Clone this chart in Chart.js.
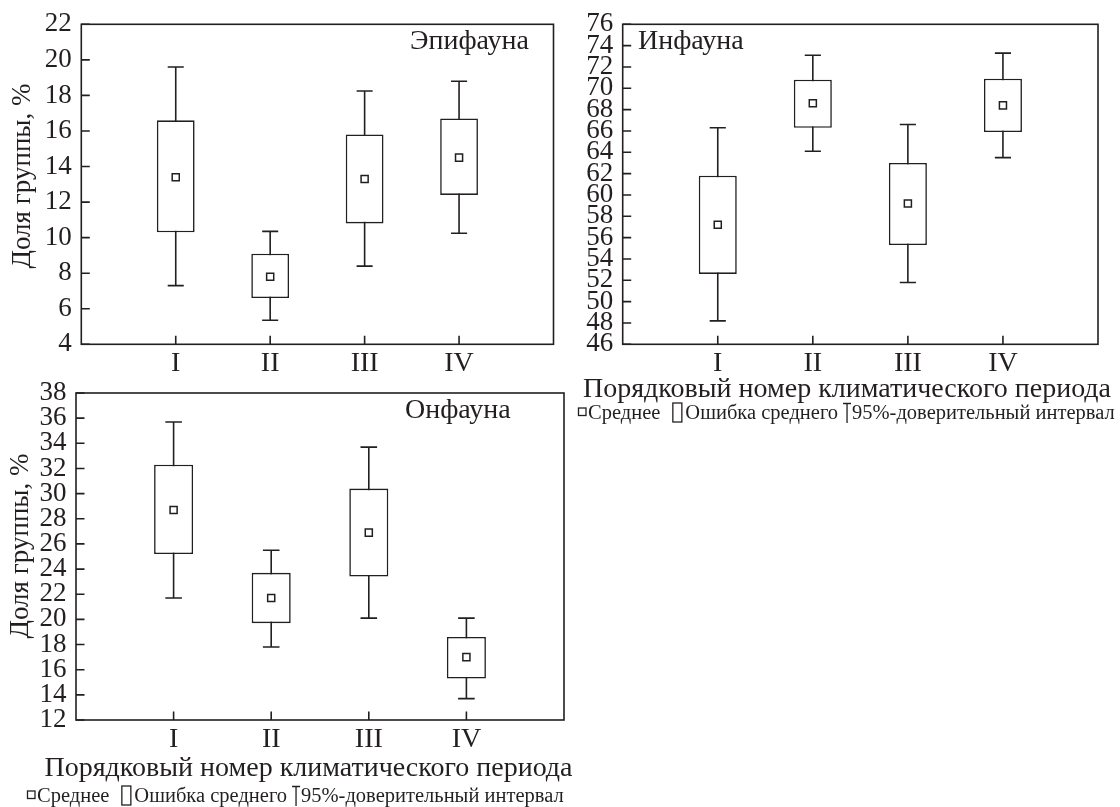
<!DOCTYPE html>
<html>
<head>
<meta charset="utf-8">
<script src="https://cdn.jsdelivr.net/npm/chart.js@4.4.1/dist/chart.umd.min.js"></script>
<style>
  html, body { margin: 0; padding: 0; background: #fff; }
  body { width: 1120px; height: 807px; position: relative; overflow: hidden; }
  canvas { position: absolute; }
</style>
</head>
<body>
<canvas id="epi" width="560" height="385" style="left:0;top:0"></canvas>
<canvas id="inf" width="560" height="440" style="left:560px;top:0"></canvas>
<canvas id="onf" width="600" height="437" style="left:0;top:370px"></canvas>
<script>
// Climatic periods (x axis)
const periods = ['I', 'II', 'III', 'IV'];

// Эпифауна: mean, standard error bounds, 95% CI bounds (%)
const epiMean   = [13.4, 7.8, 13.3, 14.5];
const epiSeLow  = [10.3, 6.6, 10.8, 12.4];
const epiSeHigh = [16.6, 9.1, 15.8, 16.7];
const epiCiLow  = [7.3, 5.35, 8.4, 10.25];
const epiCiHigh = [19.6, 10.35, 18.25, 18.8];
const epiTicks  = [4, 6, 8, 10, 12, 14, 16, 18, 20, 22];

// Инфауна
const infMean   = [57.2, 68.6, 59.2, 68.4];
const infSeLow  = [52.6, 66.3, 55.3, 65.9];
const infSeHigh = [61.8, 70.8, 63.0, 70.9];
const infCiLow  = [48.2, 64.1, 51.8, 63.5];
const infCiHigh = [66.3, 73.1, 66.6, 73.3];
const infTicks  = [46, 48, 50, 52, 54, 56, 58, 60, 62, 64, 66, 68, 70, 72, 74, 76];

// Онфауна
const onfMean   = [28.7, 21.7, 26.9, 17.0];
const onfSeLow  = [25.2, 19.7, 23.4, 15.3];
const onfSeHigh = [32.3, 23.7, 30.4, 18.6];
const onfCiLow  = [21.7, 17.8, 20.1, 13.7];
const onfCiHigh = [35.7, 25.5, 33.7, 20.1];
const onfTicks  = [12, 14, 16, 18, 20, 22, 24, 26, 28, 30, 32, 34, 36, 38];

const INK = '#231f20';
const SERIF = "'Liberation Serif', 'Times New Roman', serif";
Chart.defaults.font.family = SERIF;
Chart.defaults.color = INK;

const LINE = 1.6;

// Frame, inward tick marks, confidence-interval whiskers and panel texts
const panelDecor = {
  id: 'panelDecor',
  beforeDatasetsDraw(chart, args, o) {
    const { ctx, scales: { x, y } } = chart;
    const unit = x.getPixelForValue(1) - x.getPixelForValue(0);
    const cap = unit * 0.085;
    ctx.save();
    ctx.strokeStyle = INK;
    ctx.lineWidth = LINE;
    o.ciLow.forEach((lo, i) => {
      const px = x.getPixelForValue(i + 1);
      const yLo = y.getPixelForValue(lo);
      const yHi = y.getPixelForValue(o.ciHigh[i]);
      ctx.beginPath();
      ctx.moveTo(px, yLo); ctx.lineTo(px, yHi);
      ctx.moveTo(px - cap, yLo); ctx.lineTo(px + cap, yLo);
      ctx.moveTo(px - cap, yHi); ctx.lineTo(px + cap, yHi);
      ctx.stroke();
    });
    ctx.restore();
  },
  afterDraw(chart, args, o) {
    const { ctx, chartArea: a, scales: { x, y } } = chart;
    ctx.save();
    ctx.strokeStyle = INK;
    ctx.fillStyle = INK;
    ctx.lineWidth = LINE;
    ctx.strokeRect(a.left, a.top, a.right - a.left, a.bottom - a.top);
    const tl = 8.5;
    ctx.beginPath();
    y.ticks.forEach(t => {
      const py = y.getPixelForValue(t.value);
      ctx.moveTo(a.left, py); ctx.lineTo(a.left + tl, py);
    });
    x.ticks.forEach(t => {
      const px = x.getPixelForValue(t.value);
      ctx.moveTo(px, a.bottom); ctx.lineTo(px, a.bottom - tl);
    });
    ctx.stroke();

    // panel name
    ctx.font = `28px ${SERIF}`;
    ctx.textBaseline = 'middle';
    ctx.textAlign = o.name.align;
    ctx.fillText(o.name.text, o.name.x, o.name.y);

    // y axis title
    if (o.yTitle) {
      ctx.save();
      ctx.translate(o.yTitle.x, o.yTitle.y);
      ctx.rotate(-Math.PI / 2);
      ctx.font = `27px ${SERIF}`;
      ctx.textAlign = 'center';
      ctx.textBaseline = 'middle';
      ctx.fillText('Доля группы, %', 0, 0);
      ctx.restore();
    }

    // x axis title
    if (o.xTitle) {
      ctx.font = `28px ${SERIF}`;
      ctx.textAlign = 'center';
      ctx.textBaseline = 'alphabetic';
      ctx.fillText('Порядковый номер климатического периода', o.xTitle.x, o.xTitle.y);
    }

    // key to the symbols
    if (o.key) {
      ctx.font = `20.5px ${SERIF}`;
      ctx.textAlign = 'left';
      ctx.textBaseline = 'alphabetic';
      const base = o.key.y;
      let cx = o.key.x;
      ctx.lineWidth = 1.3;
      // mean marker
      ctx.strokeRect(cx + 0.5, base - 11, 7.5, 7.5);
      cx += 10;
      ctx.fillText('Среднее', cx, base);
      cx += ctx.measureText('Среднее').width + 12;
      // standard error box
      ctx.strokeRect(cx + 0.5, base - 16, 9, 19);
      cx += 13;
      ctx.fillText('Ошибка среднего', cx, base);
      cx += ctx.measureText('Ошибка среднего').width + 5;
      // confidence interval whisker
      ctx.beginPath();
      ctx.moveTo(cx, base - 15.5); ctx.lineTo(cx + 8, base - 15.5);
      ctx.moveTo(cx + 4, base - 15.5); ctx.lineTo(cx + 4, base + 4);
      ctx.stroke();
      cx += 9;
      ctx.fillText('95%-доверительный интервал', cx, base);
    }
    ctx.restore();
  }
};

function makePanel(id, d, lay) {
  const xs = periods.map((_, i) => i + 1);
  return new Chart(document.getElementById(id), {
    type: 'bar',
    data: {
      datasets: [
        {
          type: 'bar',
          label: 'Ошибка среднего',
          data: xs.map((xv, i) => ({ x: xv, y: [d.seLow[i], d.seHigh[i]] })),
          backgroundColor: '#ffffff',
          borderColor: INK,
          borderWidth: LINE,
          borderSkipped: false,
          categoryPercentage: 1,
          barPercentage: 0.4,
          order: 2
        },
        {
          type: 'scatter',
          label: 'Среднее',
          data: xs.map((xv, i) => ({ x: xv, y: d.mean[i] })),
          pointStyle: 'rect',
          radius: 5,
          backgroundColor: '#ffffff',
          borderColor: INK,
          borderWidth: 1.5,
          order: 1
        }
      ]
    },
    options: {
      responsive: false,
      animation: false,
      events: [],
      layout: { padding: lay.padding },
      plugins: {
        legend: { display: false },
        tooltip: { enabled: false },
        panelDecor: {
          ciLow: d.ciLow, ciHigh: d.ciHigh,
          name: lay.name, yTitle: lay.yTitle, xTitle: lay.xTitle, key: lay.key
        }
      },
      scales: {
        x: {
          type: 'linear', min: 0, max: periods.length + 1, offset: false,
          grid: { display: false, drawTicks: false, offset: false },
          border: { display: false },
          afterBuildTicks: s => { s.ticks = xs.map(v => ({ value: v })); },
          afterFit: s => { s.height = lay.xAxisHeight; },
          ticks: {
            autoSkip: false, maxRotation: 0, padding: lay.xTickPad,
            font: { family: SERIF, size: 28 }, color: INK,
            callback: v => periods[v - 1] ?? ''
          }
        },
        y: {
          type: 'linear', min: d.ticks[0], max: d.ticks[d.ticks.length - 1],
          grid: { display: false, drawTicks: false },
          border: { display: false },
          afterBuildTicks: s => { s.ticks = d.ticks.map(v => ({ value: v })); },
          afterFit: s => { s.width = lay.yAxisWidth; },
          ticks: {
            autoSkip: false, padding: 9.5,
            font: { family: SERIF, size: 27, lineHeight: 1 }, color: INK
          }
        }
      }
    },
    plugins: [panelDecor]
  });
}

makePanel('epi',
  { mean: epiMean, seLow: epiSeLow, seHigh: epiSeHigh, ciLow: epiCiLow, ciHigh: epiCiHigh, ticks: epiTicks },
  {
    padding: { top: 24.3, right: 5, left: 0, bottom: 0 },
    yAxisWidth: 81.3, xAxisHeight: 40.7, xTickPad: 3,
    name: { text: 'Эпифауна', x: 529, y: 41.6, align: 'right' },
    yTitle: { x: 23, y: 176 }
  });

makePanel('inf',
  { mean: infMean, seLow: infSeLow, seHigh: infSeHigh, ciLow: infCiLow, ciHigh: infCiHigh, ticks: infTicks },
  {
    padding: { top: 24.3, right: 22, left: 0, bottom: 0 },
    yAxisWidth: 62.7, xAxisHeight: 95.7, xTickPad: 3,
    name: { text: 'Инфауна', x: 78, y: 41.6, align: 'left' },
    xTitle: { x: 287, y: 397 },
    key: { x: 18, y: 419 }
  });

makePanel('onf',
  { mean: onfMean, seLow: onfSeLow, seHigh: onfSeHigh, ciLow: onfCiLow, ciHigh: onfCiHigh, ticks: onfTicks },
  {
    padding: { top: 21.7, right: 36, left: 0, bottom: 0 },
    yAxisWidth: 76, xAxisHeight: 87, xTickPad: 3,
    name: { text: 'Онфауна', x: 405, y: 40.3, align: 'left' },
    yTitle: { x: 20.8, y: 176 },
    xTitle: { x: 308.5, y: 406 },
    key: { x: 27, y: 432 }
  });
</script>
</body>
</html>
